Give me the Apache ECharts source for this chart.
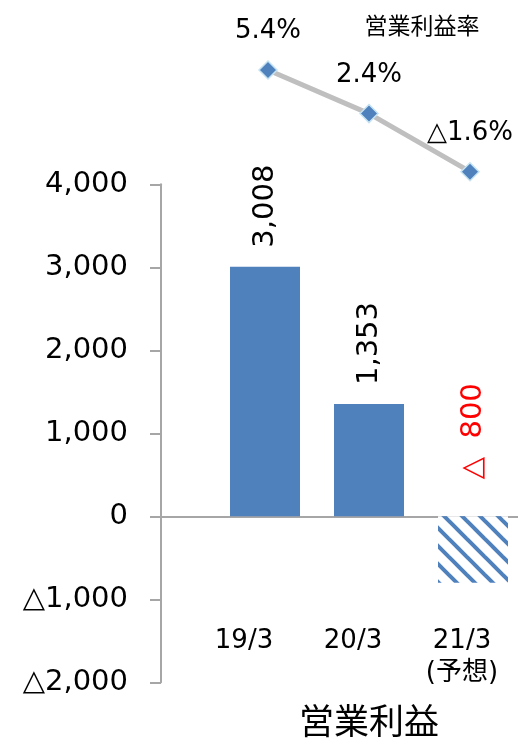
<!DOCTYPE html>
<html>
<head>
<meta charset="utf-8">
<script src="https://cdn.jsdelivr.net/npm/echarts@6/dist/echarts.min.js"></script>
<style>
  html, body { margin: 0; padding: 0; background: #fff; }
  #chart { width: 518px; height: 745px; }
</style>
</head>
<body>
<div id="chart"></div>
<script>
// Fiscal years and operating profit (百万円), with operating margin (%)
const categories = ['19/3', '20/3', '21/3'];
const categoryLabels = ['19/3', '20/3', '21/3\n(予想)'];
const operatingProfit = [3008, 1353, -800];
const operatingMargin = [5.4, 2.4, -1.6];
const profitTicks = { min: -2000, max: 4000, interval: 1000 };
const forecastIndex = 2;

const FONT = '"DejaVu Sans", "Noto Sans CJK JP", sans-serif';
const BLUE = '#4f81bd';
const GRAY = '#a6a6a6';

// Triangle marks a negative value, Japanese accounting style
function fmtSigned(v, sep) {
  const abs = Math.abs(v);
  const s = sep ? abs.toLocaleString('en-US') : String(abs);
  return v < 0 ? '△' + s : s;
}

// Diagonal stripe fill for the forecast bar
function stripePattern() {
  const size = 18;
  const c = document.createElement('canvas');
  c.width = size; c.height = size;
  const ctx = c.getContext('2d');
  ctx.fillStyle = '#ffffff';
  ctx.fillRect(0, 0, size, size);
  ctx.strokeStyle = BLUE;
  ctx.lineWidth = 4;
  for (let k = -1; k <= 1; k++) {
    ctx.beginPath();
    ctx.moveTo(k * size - 2, -2);
    ctx.lineTo(k * size + size + 2, size + 2);
    ctx.stroke();
  }
  return { image: c, repeat: 'repeat' };
}

// Pad categories so the bars sit on the axis ticks, away from the y axis
const padded = arr => [''].concat(arr, ['']);
const barData = padded(operatingProfit).map((v, i) => {
  if (v === '') return null;
  const idx = i - 1;
  const item = { value: v };
  if (idx === forecastIndex) {
    item.itemStyle = { color: stripePattern() };
    item.label = {
      color: '#ff0000',
      distance: 37,
      formatter: p => (p.value < 0 ? '△  ' + Math.abs(p.value) : String(p.value))
    };
  }
  return item;
});
const lineData = padded(operatingMargin).map(v => (v === '' ? null : v));

const chart = echarts.init(document.getElementById('chart'), null, { renderer: 'canvas' });

chart.setOption({
  animation: false,
  backgroundColor: '#ffffff',
  textStyle: { fontFamily: FONT },
  grid: [
    { left: 161, top: 184.3, width: 416, height: 498, containLabel: false, outerBoundsMode: 'none' },
    { left: 167, top: 61.3, width: 404, height: 116.2, containLabel: false, outerBoundsMode: 'none' },
    { left: 135, top: 600, width: 436, height: 10, containLabel: false, outerBoundsMode: 'none' }
  ],
  xAxis: [
    {
      gridIndex: 0, type: 'category', boundaryGap: false,
      data: padded(categories),
      axisLine: { onZero: true, lineStyle: { color: GRAY, width: 2 } },
      axisTick: { show: false }, axisLabel: { show: false }, splitLine: { show: false }
    },
    {
      gridIndex: 1, type: 'category', boundaryGap: false,
      data: padded(categories), show: false
    },
    {
      gridIndex: 2, type: 'category', boundaryGap: false,
      data: padded(categoryLabels),
      axisLine: { show: false }, axisTick: { show: false }, splitLine: { show: false },
      axisLabel: {
        show: true, interval: 0, margin: 15,
        fontFamily: FONT, fontSize: 26, color: '#000', lineHeight: 32
      }
    }
  ],
  yAxis: [
    {
      gridIndex: 0, type: 'value',
      min: profitTicks.min, max: profitTicks.max, interval: profitTicks.interval,
      axisLine: { show: true, lineStyle: { color: GRAY, width: 2 } },
      axisTick: { show: true, length: 11, lineStyle: { color: GRAY, width: 2 } },
      splitLine: { show: false },
      axisLabel: {
        margin: 33, fontFamily: FONT, fontSize: 29, color: '#000',
        formatter: v => fmtSigned(v, true)
      }
    },
    {
      gridIndex: 1, type: 'value', min: -2, max: 6, show: false
    },
    {
      gridIndex: 2, type: 'value', show: false
    }
  ],
  series: [
    {
      name: '営業利益',
      type: 'bar',
      xAxisIndex: 0, yAxisIndex: 0,
      data: barData,
      barWidth: 70,
      itemStyle: { color: BLUE },
      label: {
        show: true, position: 'top', rotate: 90, distance: 19,
        align: 'left', verticalAlign: 'middle',
        fontFamily: FONT, fontSize: 29, color: '#000',
        formatter: p => fmtSigned(p.value, true)
      }
    },
    {
      name: '営業利益率',
      type: 'line',
      xAxisIndex: 1, yAxisIndex: 1,
      data: lineData,
      connectNulls: false,
      symbol: 'diamond', symbolSize: 18,
      lineStyle: { color: '#bfbfbf', width: 5 },
      itemStyle: { color: BLUE, borderColor: '#c5e3f2', borderWidth: 1.5 },
      label: {
        show: true, position: 'top', distance: 16,
        fontFamily: FONT, fontSize: 26, color: '#000',
        formatter: p => fmtSigned(p.value, false) + '%'
      },
      z: 5
    }
  ],
  graphic: [
    {
      type: 'text', x: 422, y: 28,
      style: { text: '営業利益率', font: '23px ' + FONT, fill: '#000', align: 'center', verticalAlign: 'middle' }
    },
    {
      type: 'text', x: 369, y: 725,
      style: { text: '営業利益', font: '35px ' + FONT, fill: '#000', align: 'center', verticalAlign: 'middle' }
    }
  ]
});
</script>
</body>
</html>
